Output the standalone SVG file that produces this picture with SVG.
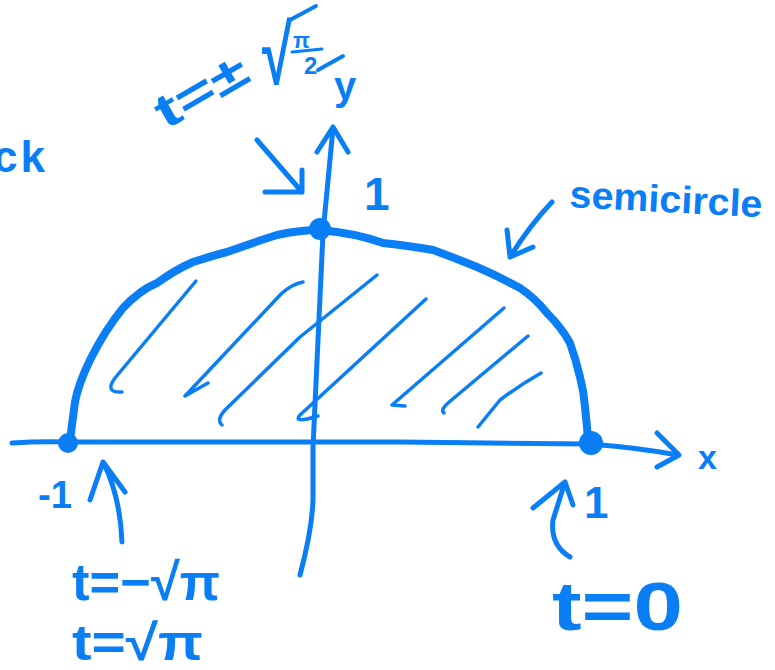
<svg xmlns="http://www.w3.org/2000/svg" width="775" height="670" viewBox="0 0 775 670">
<style>
.ink{fill:none;stroke:#0a7ef5;stroke-linecap:round;stroke-linejoin:round}
.axis{stroke-width:5}
.curve{stroke-width:8}
.hatch{stroke-width:3.5}
.arr{stroke-width:5}
.lbl{fill:#0a7ef5;font-family:"Liberation Sans","DejaVu Sans",sans-serif;font-weight:bold}
.dot{fill:#0a7ef5}
</style>
<rect width="775" height="670" fill="#ffffff"/>
<g id="axes">
<path class="ink axis" d="M12,443 Q40,441 70,442 L400,442 Q520,443 590,444 Q640,448 678,455"/>
<path class="ink axis" d="M657,433 L679,455 L657,467"/>
<path class="ink axis" d="M300,575 Q312,530 313,500 L313,447 L323,233 L333,128"/>
<path class="ink axis" d="M317,152 L333,127 L348,152"/>
</g>
<g id="semicircle">
<path class="ink curve" d="M70,440 L75,402 Q78,385 90,360 Q105,330 123,308 Q140,290 157,283 Q175,270 193,262 Q215,255 227,252 Q255,242 277,235 Q300,230 320,230 Q355,233 383,243 Q410,246 433,250 Q455,258 477,267 Q500,277 520,288 Q535,298 547,313 Q562,328 570,343 Q576,360 580,377 Q584,392 585,407 Q587,425 588,440"/>
</g>
<g id="hatching">
<path class="ink hatch" d="M196,281 L115,378 Q104,393 122,392"/>
<path class="ink hatch" d="M303,282 Q292,284 281,294 L185,396 L208,383"/>
<path class="ink hatch" d="M377,275 L300,337 L225,410 Q216,420 222,425"/>
<path class="ink hatch" d="M426,299 L300,415 Q292,424 318,416"/>
<path class="ink hatch" d="M504,308 L392,405 L405,406"/>
<path class="ink hatch" d="M528,336 L448,403 Q440,410 444,413"/>
<path class="ink hatch" d="M541,373 Q520,385 500,400 L478,427"/>
</g>
<g id="points">
<circle class="dot" cx="68" cy="443" r="10"/>
<circle class="dot" cx="320" cy="229" r="11"/>
<circle class="dot" cx="591" cy="443" r="12"/>
</g>
<g id="connectors">
<path class="ink arr" d="M257,140 L302,192 M265,192 L302,192 L302,170"/>
<path class="ink arr" d="M552,202 Q530,225 510,257 M507,230 L510,257 L533,247"/>
<path class="ink arr" d="M122,542 Q120,495 103,462 M90,500 L103,462 L125,492"/>
<path class="ink arr" d="M570,557 Q550,545 553,520 L565,482 M533,508 L565,482 L573,505"/>
</g>
<g id="label-top">
<text class="lbl" font-size="48" font-weight="normal" transform="translate(166,130) rotate(-30)" textLength="100" lengthAdjust="spacingAndGlyphs">t=±</text>
<text class="lbl" font-size="84" x="262" y="84" font-weight="normal" textLength="30" lengthAdjust="spacingAndGlyphs">√</text>
<path class="ink" stroke-width="4" d="M290,20 L316,6"/>
<text class="lbl" font-size="22" x="293" y="48">π</text>
<path class="ink" stroke-width="3" d="M292,52 L322,49"/>
<text class="lbl" font-size="24" x="304" y="74">2</text>
<path class="ink" stroke-width="4" d="M318,70 L343,56"/>
</g>
<g id="label-y"><text class="lbl" font-size="40" x="334" y="100">y</text></g>
<g id="label-y1"><text class="lbl" font-size="46" x="364" y="210">1</text></g>
<g id="label-x"><text class="lbl" font-size="34" x="698" y="469" font-weight="normal">x</text></g>
<g id="label-semicircle"><text class="lbl" font-size="38" x="569" y="207" textLength="193" lengthAdjust="spacingAndGlyphs" transform="rotate(3 569 207)">semicircle</text></g>
<g id="label-ck"><text class="lbl" font-size="44" x="45" y="172" text-anchor="end">c<tspan dx="3">k</tspan></text></g>
<g id="label-m1"><text class="lbl" font-size="38" x="38" y="508" font-weight="normal" textLength="34" lengthAdjust="spacingAndGlyphs">-1</text></g>
<g id="label-p1"><text class="lbl" font-size="44" x="584" y="518" font-weight="normal">1</text></g>
<g id="label-tneg"><text class="lbl" font-size="52" x="72" y="600" textLength="148" lengthAdjust="spacingAndGlyphs">t=−√π</text></g>
<g id="label-tpos"><text class="lbl" font-size="50" x="72" y="660" textLength="131" lengthAdjust="spacingAndGlyphs">t=√π</text></g>
<g id="label-t0"><text class="lbl" font-size="68" x="552" y="630" textLength="131" lengthAdjust="spacingAndGlyphs">t=0</text></g>
</svg>
